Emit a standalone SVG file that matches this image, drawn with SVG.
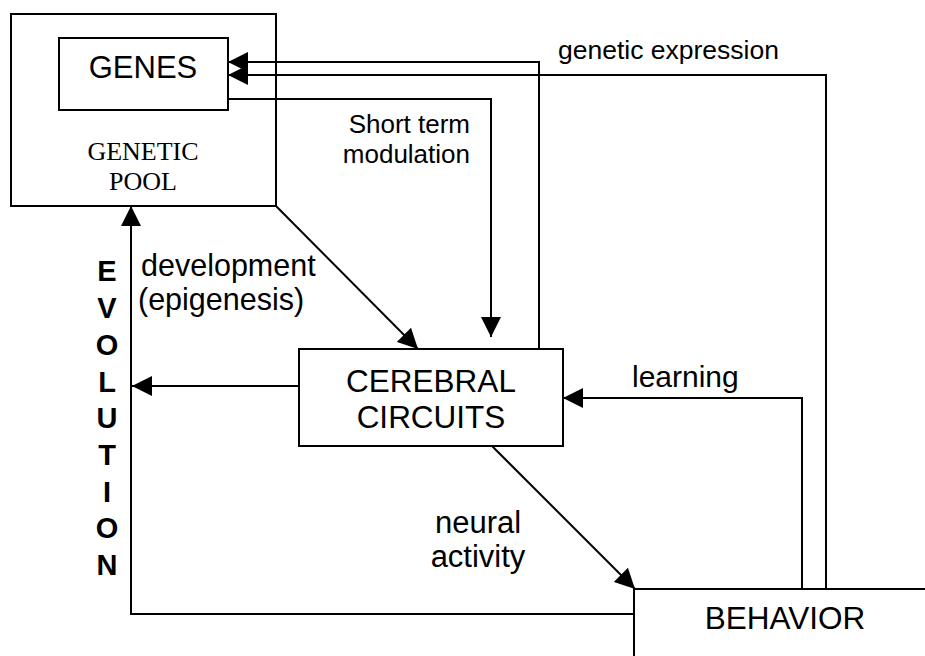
<svg xmlns="http://www.w3.org/2000/svg" width="925" height="656" viewBox="0 0 925 656">
  <style>
    .box { fill: #fff; stroke: #000; stroke-width: 2; }
    .wire { fill: none; stroke: #000; stroke-width: 2; }
    .sans { font-family: "Liberation Sans", Arial, sans-serif; fill: #000; }
    .serif { font-family: "Liberation Serif", "Times New Roman", serif; fill: #000; }
    .evo { font-family: "Liberation Sans", Arial, sans-serif; font-weight: bold; font-size: 29px; text-anchor: middle; }
  </style>
  <defs>
    <marker id="arrow" markerUnits="userSpaceOnUse" markerWidth="20" markerHeight="20" refX="20" refY="10" orient="auto">
      <path d="M0,0 L20,10 L0,20 Z" fill="#000"/>
    </marker>
  </defs>

  <rect width="925" height="656" fill="#fff"/>

  <!-- nodes -->
  <g id="genetic-pool">
    <rect class="box" x="11" y="14" width="265" height="192"/>
    <text class="serif" x="143" y="160" font-size="26" text-anchor="middle">GENETIC</text>
    <text class="serif" x="143" y="190" font-size="26" text-anchor="middle">POOL</text>
  </g>
  <g id="genes">
    <rect class="box" x="59" y="38" width="169" height="72"/>
    <text class="sans" x="143" y="78" font-size="31" text-anchor="middle">GENES</text>
  </g>
  <g id="cerebral-circuits">
    <rect class="box" x="299" y="349" width="264" height="97"/>
    <text class="sans" x="431" y="392" font-size="31.5" text-anchor="middle">CEREBRAL</text>
    <text class="sans" x="431" y="428" font-size="31.5" text-anchor="middle">CIRCUITS</text>
  </g>
  <g id="behavior">
    <rect class="box" x="634" y="589" width="300" height="80"/>
    <text class="sans" x="785" y="629" font-size="31.5" text-anchor="middle">BEHAVIOR</text>
  </g>

  <!-- connectors -->
  <g id="connectors">
    <!-- cerebral circuits up to genes -->
    <polyline class="wire" points="539,349 539,62 228,62" marker-end="url(#arrow)"/>
    <!-- genetic expression: behavior to genes -->
    <polyline class="wire" points="826,589 826,75 228,75" marker-end="url(#arrow)"/>
    <!-- short term modulation: genes to cerebral circuits -->
    <polyline class="wire" points="228,99 491,99 491,337" marker-end="url(#arrow)"/>
    <!-- development -->
    <line class="wire" x1="276" y1="206" x2="418" y2="349" marker-end="url(#arrow)"/>
    <!-- learning -->
    <polyline class="wire" points="802,589 802,398 563,398" marker-end="url(#arrow)"/>
    <!-- neural activity -->
    <line class="wire" x1="492" y1="446" x2="635" y2="589" marker-end="url(#arrow)"/>
    <!-- cerebral circuits to evolution -->
    <line class="wire" x1="299" y1="386" x2="132" y2="386" marker-end="url(#arrow)"/>
    <!-- evolution: behavior back to genetic pool -->
    <polyline class="wire" points="634,614 131,614 131,206" marker-end="url(#arrow)"/>
  </g>

  <!-- connector labels -->
  <g id="labels">
    <text class="sans" x="558" y="59" font-size="26.5">genetic expression</text>
    <text class="sans" x="470" y="133" font-size="26" text-anchor="end">Short term</text>
    <text class="sans" x="470" y="163" font-size="26" text-anchor="end">modulation</text>
    <text class="sans" x="141" y="276" font-size="30.5">development</text>
    <text class="sans" x="138" y="310" font-size="30.5">(epigenesis)</text>
    <text class="sans" x="632" y="387" font-size="30">learning</text>
    <text class="sans" x="478" y="533" font-size="31" text-anchor="middle">neural</text>
    <text class="sans" x="478" y="567" font-size="31" text-anchor="middle">activity</text>
    <g class="evo">
      <text x="107" y="281">E</text>
      <text x="107" y="318">V</text>
      <text x="107" y="355">O</text>
      <text x="107" y="392">L</text>
      <text x="107" y="428">U</text>
      <text x="107" y="465">T</text>
      <text x="107" y="502">I</text>
      <text x="107" y="538">O</text>
      <text x="107" y="575">N</text>
    </g>
  </g>
</svg>
